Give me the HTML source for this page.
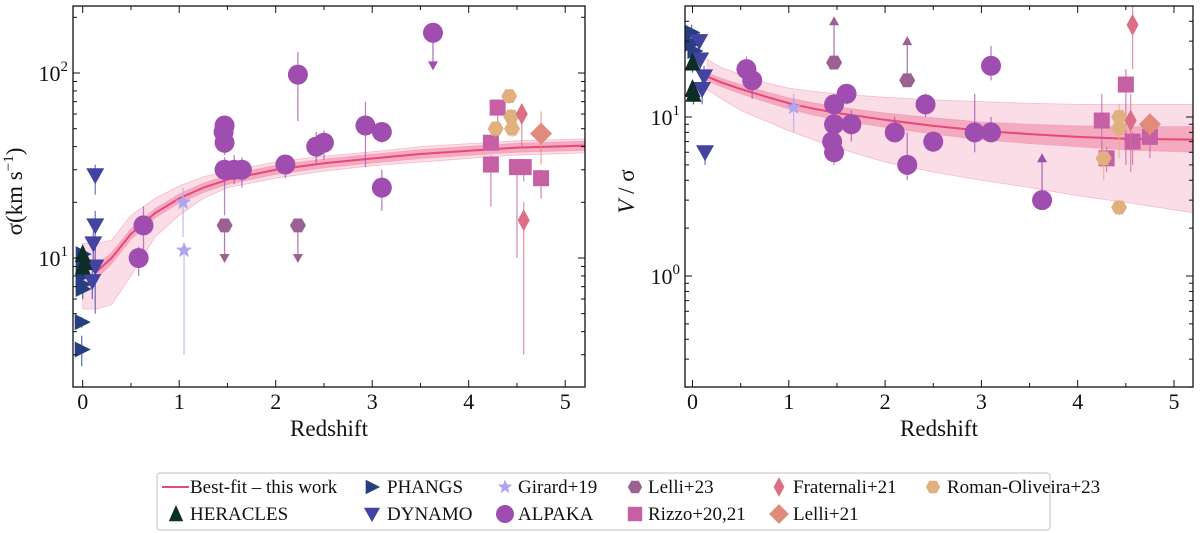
<!DOCTYPE html>
<html><head><meta charset="utf-8"><style>
body{margin:0;background:#fff;width:1200px;height:533px;overflow:hidden;font-family:"Liberation Serif",serif}
svg{display:block}
text{font-family:"Liberation Serif",serif;fill:#111}
</style></head><body>
<svg id="chart" width="1200" height="533"></svg>
<script>
// ---- data ----
const fitZ=[0.15,0.3,0.5,0.75,1,1.25,1.5,2,2.5,3,3.5,4,4.5,5.2];
const sigMed=[8.5,10,13.5,17.5,21,24,26.5,30,32.5,34.5,36.5,38,39.5,40.5];
const sigInLo=[7.8,9.3,12.6,16.5,19.8,22.6,25,28.3,30.7,32.6,34.5,35.9,37.3,38.2];
const sigInHi=[9.2,10.7,14.4,18.5,22.2,25.4,28,31.7,34.3,36.4,38.5,40.1,41.7,42.8];
const sigOutZ=[0,0.15,0.3,0.5,0.75,1,1.25,1.5,2,2.5,3,3.5,4,4.5,5.2];
const sigOutLo=[5.3,5.3,5.6,8,13,17,21,24,27,29.5,31.5,33,34.5,36,37];
const sigOutHi=[12,12,12.5,17,21,24.5,27.5,29.5,33,35.5,37.5,40,41.5,43,44];
const vsMed=[18,16.5,15,13.5,12.2,11.3,10.6,9.6,8.8,8.2,7.8,7.5,7.3,7.2];
const vsInLo=[17,15.5,14,12.5,11.2,10.3,9.6,8.6,7.8,7.2,6.8,6.5,6.2,6.0];
const vsInHi=[19,17.5,16,14.5,13.2,12.3,11.6,10.6,9.9,9.3,9,8.8,8.7,8.7];
const vsOutLo=[15,13,11,9.5,8.2,7.2,6.4,5.2,4.5,4,3.6,3.2,2.9,2.5];
const vsOutHi=[23,20.5,18.5,16.5,15.2,14.5,14,13.3,12.8,12.5,12.2,12,12,12];

// series: [z, value, lo, hi, limit(0 none, -1 upper, +1 lower), limit end value]
const alpakaSig=[[0.58,10,8,11.5],[0.63,15,11,19],[1.47,52,45,56],[1.46,48,40,52],[1.47,42,36,46],[1.47,30,17,35],[1.57,30,25,36],[1.65,30,24,35],[2.1,32,27,36],[2.23,98,55,130],[2.42,40,32,48],[2.5,42,34,49],[2.93,52,31,70],[3.1,48,42,53],[3.1,24,18,30],[3.63,165,165,165,-1,110]];
const alpakaVs=[[0.56,20,17,24],[0.62,17,13,20],[1.47,12,9,14],[1.47,9,7,11],[1.45,7,5.5,8.5],[1.47,6,5,7],[1.6,14,12,16],[1.65,9,7,11],[2.1,8,7,10],[2.23,5,4,8],[2.42,12,10,14],[2.5,7,6,8],[2.93,8,6,14],[3.1,8,7,10],[3.1,21,17,28],[3.63,3,3,3,1,5.5]];
const phangsSig=[[-0.01,3.2,2.6,3.8],[-0.01,4.5,4.2,4.8],[0,6.8,6,7.5],[0.0,7.2,6.5,8],[0,8,7,9],[0,9,8,10],[0,10.5,9.5,11.5]];
const phangsVs=[[-0.01,34,29,38],[0,29,25,33],[0.02,26,22,30]];
const heraclesSig=[[0,10.5,9.5,11.5],[0.02,9.5,8.5,10.5],[0,9,8,10]];
const heraclesVs=[[0,22,19,25],[0,15,13,17],[0.01,14,12,16]];
const dynamoSig=[[0.13,28,22,32],[0.13,15,11,18],[0.11,12,9,14],[0.13,9,5,12],[0.1,7.5,6,9]];
const dynamoVs=[[0.07,30,26,34],[0.08,23,20,26],[0.12,18,15,21],[0.1,15,12,18],[0.13,6,5,6.5]];
const girardSig=[[1.04,20,13,24],[1.05,11,3,11]];
const girardVs=[[1.05,11.5,8,14]];
const lelli23Sig=[[1.47,15,15,15,-1,10],[2.23,15,15,15,-1,10]];
const lelli23Vs=[[1.47,22,22,22,1,40],[2.23,17,17,17,1,30]];
const rizzoSig=[[4.23,42,38,46],[4.23,32,19,36],[4.3,65,50,72],[4.5,31,10,34],[4.57,31,26,34],[4.75,27,21,30]];
const rizzoVs=[[4.25,9.5,5,14],[4.3,5.5,4.5,6.5],[4.5,16,5,20],[4.57,7,5,8],[4.75,7.5,5.5,9]];
const fraterSig=[[4.55,60,39,66],[4.57,16,3,20]];
const fraterVs=[[4.57,38,20,50],[4.55,9.5,4.5,14]];
const lelli21Sig=[[4.75,47,32,62]];
const lelli21Vs=[[4.75,9,7.5,10]];
const romanSig=[[4.28,50,45,55],[4.42,75,68,82],[4.44,58,52,64],[4.45,50,45,55]];
const romanVs=[[4.27,5.5,4,7],[4.43,10,8,12],[4.43,8.5,5.5,10],[4.43,2.7,2.4,3]];

const NS="http://www.w3.org/2000/svg";
const svg=document.getElementById('chart');
function mk(tag,attrs,parent){const e=document.createElementNS(NS,tag);for(const k in attrs)e.setAttribute(k,attrs[k]);(parent||svg).appendChild(e);return e;}

const L={x0:73,x1:585,y0:6,y1:387,xs:z=>82.7+96.5*z,ys:v=>258-185*(Math.log10(v)-1),name:'sigma-panel'};
const R={x0:685,x1:1193,y0:6,y1:387,xs:z=>692.5+96.3*z,ys:v=>276-159*Math.log10(v),name:'v-sigma-panel'};

const COL={phangs:'#263f80',heracles:'#0d2e27',dynamo:'#4343a0',girard:'#ada5ef',lelli23:'#9a6192',alpaka:'#a04db0',rizzo:'#c65fa3',frater:'#dc6f86',lelli21:'#e08b7b',roman:'#e0b07f'};

function marker(shape,x,y,c,g,s){
  s=s||1;let e;
  if(shape==='circle')e=mk('ellipse',{cx:x,cy:y,rx:10*s,ry:10*s,fill:c},g);
  else if(shape==='square')e=mk('rect',{x:x-8*s,y:y-8*s,width:16*s,height:16*s,fill:c},g);
  else if(shape==='tri-right')e=mk('polygon',{points:`${x-7*s},${y-8*s} ${x+9*s},${y} ${x-7*s},${y+8*s}`,fill:c},g);
  else if(shape==='tri-down')e=mk('polygon',{points:`${x-9*s},${y-7*s} ${x+9*s},${y-7*s} ${x},${y+9*s}`,fill:c},g);
  else if(shape==='tri-up')e=mk('polygon',{points:`${x-8*s},${y+8*s} ${x+8*s},${y+8*s} ${x},${y-10*s}`,fill:c},g);
  else if(shape==='star'){let p=[];for(let i=0;i<10;i++){const r=i%2?3.5*s:8.5*s,a=-Math.PI/2+i*Math.PI/5;p.push((x+r*Math.cos(a)).toFixed(1)+','+(y+r*Math.sin(a)).toFixed(1));}e=mk('polygon',{points:p.join(' '),fill:c},g);}
  else if(shape==='hex'){let p=[];for(let i=0;i<6;i++){const a=i*Math.PI/3;p.push((x+8*s*Math.cos(a)).toFixed(1)+','+(y+8*s*Math.sin(a)).toFixed(1));}e=mk('polygon',{points:p.join(' '),fill:c},g);}
  else if(shape==='thin-diamond')e=mk('polygon',{points:`${x},${y-11*s} ${x+6*s},${y} ${x},${y+11*s} ${x-6*s},${y}`,fill:c},g);
  else if(shape==='diamond')e=mk('polygon',{points:`${x},${y-11*s} ${x+11*s},${y} ${x},${y+11*s} ${x-11*s},${y}`,fill:c},g);
  return e;
}

function series(P,data,shape,c,name,parent){
  const g=mk('g',{},parent);
  
  
  data.forEach(d=>{
    const x=P.xs(d[0]),y=P.ys(d[1]);
    if(d[4]){
      const ye=P.ys(d[5]);
      mk('line',{x1:x,y1:y,x2:x,y2:ye,stroke:c,'stroke-width':1.3,opacity:0.8},g);
      const dir=d[4]<0?1:-1;
      mk('polygon',{points:`${x-5},${ye-4*dir} ${x+5},${ye-4*dir} ${x},${ye+5*dir}`,fill:c},g);
    } else {
      mk('line',{x1:x,y1:P.ys(d[2]),x2:x,y2:P.ys(d[3]),stroke:c,'stroke-width':1.3,opacity:0.7},g);
    }
    const m=marker(shape,x,y,c,g);
    
    
  });
}

function band(P,zs,lo,hi,fill,name,parent){
  let d='M'+zs.map((z,i)=>P.xs(z)+','+P.ys(hi[i])).join(' L');
  d+=' L'+zs.map((z,i)=>P.xs(z)+','+P.ys(lo[i])).reverse().join(' L')+' Z';
  const p=mk('path',{d:d,fill:fill,stroke:'rgba(240,140,170,0.5)','stroke-width':0.8},parent);
  
  
}
function line(P,v,name,parent){
  const p=mk('polyline',{points:fitZ.map((z,i)=>P.xs(z)+','+P.ys(v[i])).join(' '),fill:'none',stroke:'#e9477a','stroke-width':2},parent);
  
  
}

function axes(P,majors,minors,ylabelHTML){
  const g=mk('g',{});
  
  
  mk('rect',{x:P.x0,y:P.y0,width:P.x1-P.x0,height:P.y1-P.y0,fill:'none',stroke:'#111','stroke-width':1.3},g);
  for(let z=0;z<=5;z++){
    const x=P.xs(z);
    mk('line',{x1:x,y1:P.y1,x2:x,y2:P.y1-7,stroke:'#111'},g);
    mk('line',{x1:x,y1:P.y0,x2:x,y2:P.y0+7,stroke:'#111'},g);
    const t=mk('text',{x:x,y:409,'text-anchor':'middle','font-size':22},g);t.textContent=z;
    
    
  }
  for(let z=0.5;z<5.2;z+=1){const x=P.xs(z);
    mk('line',{x1:x,y1:P.y1,x2:x,y2:P.y1-4,stroke:'#111'},g);
    mk('line',{x1:x,y1:P.y0,x2:x,y2:P.y0+4,stroke:'#111'},g);}
  majors.forEach(m=>{const y=P.ys(Math.pow(10,m));
    mk('line',{x1:P.x0,y1:y,x2:P.x0+7,y2:y,stroke:'#111'},g);
    mk('line',{x1:P.x1,y1:y,x2:P.x1-7,y2:y,stroke:'#111'},g);
    const t=mk('text',{x:P.x0-5,y:y+8,'text-anchor':'end','font-size':22},g);
    t.innerHTML='10<tspan dy="-10" font-size="15">'+m+'</tspan>';
    
    
  });
  minors.forEach(v=>{const y=P.ys(v);
    mk('line',{x1:P.x0,y1:y,x2:P.x0+4,y2:y,stroke:'#111'},g);
    mk('line',{x1:P.x1,y1:y,x2:P.x1-4,y2:y,stroke:'#111'},g);});
  const xl=mk('text',{x:(P.x0+P.x1)/2,y:436,'text-anchor':'middle','font-size':23},g);xl.textContent='Redshift';
  
  
  const yl=mk('text',{x:0,y:0,'text-anchor':'middle','font-size':23,transform:`translate(${P.x0-51},${(P.y0+P.y1)/2-5}) rotate(-90)`},g);
  yl.innerHTML=ylabelHTML;
  
  
}

const defs=mk('defs',{});
[L,R].forEach((P,i)=>{const cp=mk('clipPath',{id:'cp'+i},defs);mk('rect',{x:P.x0,y:P.y0,width:P.x1-P.x0,height:P.y1-P.y0},cp);});

function panel(P,idx,med,inLo,inHi,outZ,outLo,outHi,sets){
  const g=mk('g',{'clip-path':`url(#cp${idx})`});
  
  
  band(P,outZ,outLo,outHi,'rgba(244,150,180,0.32)',P.name+'-outer-band',g);
  band(P,fitZ,inLo,inHi,'rgba(233,90,130,0.38)',P.name+'-inner-band',g);
  line(P,med,P.name+'-best-fit',g);
  sets.forEach(s=>series(P,s[0],s[1],s[2],s[3],g));
}
panel(L,0,sigMed,sigInLo,sigInHi,sigOutZ,sigOutLo,sigOutHi,[
 [girardSig,'star',COL.girard,'girard19'],[lelli23Sig,'hex',COL.lelli23,'lelli23'],
 [alpakaSig,'circle',COL.alpaka,'alpaka'],[rizzoSig,'square',COL.rizzo,'rizzo2021'],
 [romanSig,'hex',COL.roman,'roman-oliveira23'],[fraterSig,'thin-diamond',COL.frater,'fraternali21'],
 [lelli21Sig,'diamond',COL.lelli21,'lelli21'],[phangsSig,'tri-right',COL.phangs,'phangs'],
 [dynamoSig,'tri-down',COL.dynamo,'dynamo'],[heraclesSig,'tri-up',COL.heracles,'heracles']]);
panel(R,1,vsMed,vsInLo,vsInHi,fitZ,vsOutLo,vsOutHi,[
 [girardVs,'star',COL.girard,'girard19'],[lelli23Vs,'hex',COL.lelli23,'lelli23'],
 [alpakaVs,'circle',COL.alpaka,'alpaka'],[rizzoVs,'square',COL.rizzo,'rizzo2021'],
 [romanVs,'hex',COL.roman,'roman-oliveira23'],[fraterVs,'thin-diamond',COL.frater,'fraternali21'],
 [lelli21Vs,'diamond',COL.lelli21,'lelli21'],[phangsVs,'tri-right',COL.phangs,'phangs'],
 [dynamoVs,'tri-down',COL.dynamo,'dynamo'],[heraclesVs,'tri-up',COL.heracles,'heracles']]);

axes(L,[1,2],[3,4,5,6,7,8,9,20,30,40,50,60,70,80,90,200],'σ(km s<tspan dy="-9" font-size="15">−1</tspan><tspan dy="9">)</tspan>');
axes(R,[0,1],[0.2,0.3,0.4,0.5,0.6,0.7,0.8,0.9,2,3,4,5,6,7,8,9,20,30,40],'<tspan font-style="italic">V</tspan> / σ');

// legend
const lg=mk('g',{});


mk('rect',{x:157,y:473,width:893,height:57,rx:3,fill:'#fff',stroke:'#ccc','stroke-width':1.2},lg);
const entries=[
 ['line',null,'Best-fit – this work',175,190,487],
 ['tri-right',COL.phangs,'PHANGS',372,387,487],
 ['star',COL.girard,'Girard+19',505,518,487],
 ['hex',COL.lelli23,'Lelli+23',635,648,487],
 ['thin-diamond',COL.frater,'Fraternali+21',779,793,487],
 ['hex',COL.roman,'Roman-Oliveira+23',933,947,487],
 ['tri-up',COL.heracles,'HERACLES',176,190,514],
 ['tri-down',COL.dynamo,'DYNAMO',372,387,514],
 ['circle',COL.alpaka,'ALPAKA',505,518,514],
 ['square',COL.rizzo,'Rizzo+20,21',635,648,514],
 ['diamond',COL.lelli21,'Lelli+21',779,793,514]];
entries.forEach(e=>{
  const g=mk('g',{},lg);
  
  
  if(e[0]==='line')mk('line',{x1:162,y1:e[5],x2:189,y2:e[5],stroke:'#e9477a','stroke-width':2},g);
  else marker(e[0],e[3],e[5],e[1],g,0.9);
  const t=mk('text',{x:e[4],y:e[5]+6,'font-size':19},g);t.textContent=e[2];
});
</script>
</body></html>
